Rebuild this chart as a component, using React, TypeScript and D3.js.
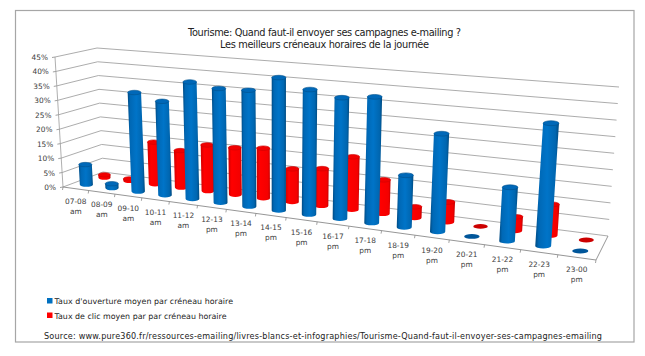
import React from "react";
import * as d3 from "d3";

const hours = ["07-08","08-09","09-10","10-11","11-12","12-13","13-14","14-15","15-16","16-17","17-18","18-19","19-20","20-21","21-22","22-23","23-00"];
const periods = ["am","am","am","am","am","pm","pm","pm","pm","pm","pm","pm","pm","pm","pm","pm","pm"];
const openRate = [7,1.5,33.9,31.8,39.2,37.9,38.2,43.2,40.2,38.5,39.7,16.2,30.2,0,16.2,36.5,0];
const clickRate = [1,0.7,14.7,12.8,15.8,15.9,16.8,11,12.2,17.2,10.9,3.5,6.3,0,4.3,9.4,0];
const yTicks = [0,5,10,15,20,25,30,35,40,45];
const seriesNames = ["Taux d'ouverture moyen par créneau horaire","Taux de clic moyen par par créneau horaire"];
const titleLines = ["Tourisme: Quand faut-il envoyer ses campagnes e-mailing ?","Les meilleurs créneaux horaires de la journée"];
const sourceText = "Source: www.pure360.fr/ressources-emailing/livres-blancs-et-infographies/Tourisme-Quand-faut-il-envoyer-ses-campagnes-emailing";

// projection frame of the 3D box
const K = 1.234;
const FLOOR = { fl:[63,187], fr:[596,260], bl:[103,172], br:[608,236] };
const TOP = { fl:[55,57], fr:[608,104], bl:[97,48], br:[619,87] };
const hScale = d3.scaleLinear().domain([0,45]).range([0,1]);
const uScale = d3.scaleBand<number>().domain(d3.range(hours.length)).range([0,1]).paddingInner(0).paddingOuter(0);
const persp = (u:number) => u/(u+K*(1-u));
const mix = (a:number[],b:number[],t:number) => [a[0]+(b[0]-a[0])*t,a[1]+(b[1]-a[1])*t];
function bil(c:typeof FLOOR,f:number,v:number){ return mix(mix(c.fl,c.fr,f),mix(c.bl,c.br,f),v); }
function project(u:number,v:number,val:number){
  const f=persp(u);
  return mix(bil(FLOOR,f,v),bil(TOP,f,v),hScale(val));
}
const poly=(pts:number[][])=>d3.line()(pts as [number,number][])!;
const step=uScale.bandwidth();
const centre=(i:number)=>(uScale(i) as number)+step/2;

function Bar({i,val,v,kind}:{i:number;val:number;v:number;kind:string}){
  const u=centre(i);
  const f=persp(u);
  const rx=(kind==="b"?6.5:6)+1.6*f;
  const ry=2.2+0.3*f;
  const b=project(u,v,0), t=project(u,v,val);
  if(val===0){
    return <ellipse cx={b[0]} cy={b[1]} rx={rx} ry={ry} fill={kind==="b"?"#00569a":"#cc0000"}/>;
  }
  const p=d3.path();
  p.moveTo(b[0]-rx,b[1]);
  p.lineTo(t[0]-rx,t[1]);
  p.lineTo(t[0]+rx,t[1]);
  p.lineTo(b[0]+rx,b[1]);
  const d=`${p.toString()} A${rx} ${ry} 0 0 1 ${b[0]-rx} ${b[1]} Z`;
  return <g>
    <path d={d} fill={`url(#${kind}g)`}/>
    <ellipse cx={t[0]} cy={t[1]} rx={rx} ry={ry} fill={kind==="b"?"#0068b8":"#f00000"} stroke={kind==="b"?"#00508c":"#d00000"} strokeWidth={0.6}/>
  </g>;
}

const FONT="'DejaVu Sans', sans-serif";

export default function App(){
  return <svg width={645} height={356} style={{position:"fixed",left:0,top:0,background:"#fff"}} fontFamily={FONT}>
    <defs>
      <linearGradient id="bg" x1="0" x2="1" y1="0" y2="0">
        <stop offset="0" stopColor="#004a82"/><stop offset="0.15" stopColor="#0068b5"/>
        <stop offset="0.5" stopColor="#0074c8"/><stop offset="0.85" stopColor="#0066b0"/><stop offset="1" stopColor="#004a80"/>
      </linearGradient>
      <linearGradient id="rg" x1="0" x2="1" y1="0" y2="0">
        <stop offset="0" stopColor="#d00000"/><stop offset="0.25" stopColor="#ff0000"/>
        <stop offset="0.85" stopColor="#f40000"/><stop offset="1" stopColor="#c00000"/>
      </linearGradient>
    </defs>
    <rect x={15.5} y={10.5} width={618.5} height={331.5} fill="#fff" stroke="#a6a6a6" strokeWidth={1.2}/>
    <text x={324.5} y={36} textAnchor="middle" fontSize={9.8} fill="#222" textLength={273}>{titleLines[0]}</text>
    <text x={324.5} y={48} textAnchor="middle" fontSize={9.8} fill="#222" textLength={209}>{titleLines[1]}</text>
    {yTicks.map(t=>{
      const a=project(0,0,t),b=project(0,1,t),c=project(1,1,t);
      return <g key={t}>
        <path d={poly([a,b,c])} fill="none" stroke="#a3a3a3" strokeWidth={0.9}/>
        <path d={poly([[a[0]-3,a[1]+0.5],a])} stroke="#8a8a8a" strokeWidth={0.8}/>
        <text x={a[0]-7} y={a[1]+3} textAnchor="end" fontSize={7.4} fill="#404040">{t}%</text>
      </g>;
    })}
    <path d={poly([project(0,0,0),project(0,0,45)])} stroke="#9a9a9a" strokeWidth={0.8} fill="none"/>
    <path d={poly([project(0,0,0),project(1,0,0),project(1,1,0)])} stroke="#8a8a8a" strokeWidth={0.9} fill="none"/>
    {d3.range(hours.length+1).map(i=>{
      const a=project(i*step,0,0);
      return <path key={i} d={poly([a,[a[0]-0.5,a[1]+3]])} stroke="#8a8a8a" strokeWidth={0.8}/>;
    })}
    {clickRate.map((val,i)=><Bar key={i} i={i} val={val} v={0.73} kind="r"/>)}
    {openRate.map((val,i)=><Bar key={i} i={i} val={val} v={0.27} kind="b"/>)}
    {hours.map((h,i)=>{
      const a=project(centre(i),0,0);
      return <g key={h} fontSize={7.4} fill="#404040" textAnchor="middle">
        <text x={a[0]} y={a[1]+15}>{h}</text>
        <text x={a[0]} y={a[1]+25}>{periods[i]}</text>
      </g>;
    })}
    <rect x={47} y={298} width={5.5} height={5.5} fill="#0070c0"/>
    <text x={54.5} y={304} fontSize={7.9} fill="#222" textLength={178.5}>{seriesNames[0]}</text>
    <rect x={47} y={312.5} width={5.5} height={5.5} fill="#ff0000"/>
    <text x={54.5} y={318.5} fontSize={7.9} fill="#222" textLength={172}>{seriesNames[1]}</text>
    <text x={44} y={338.5} fontSize={8.1} fill="#222" textLength={558}>{sourceText}</text>
  </svg>;
}
